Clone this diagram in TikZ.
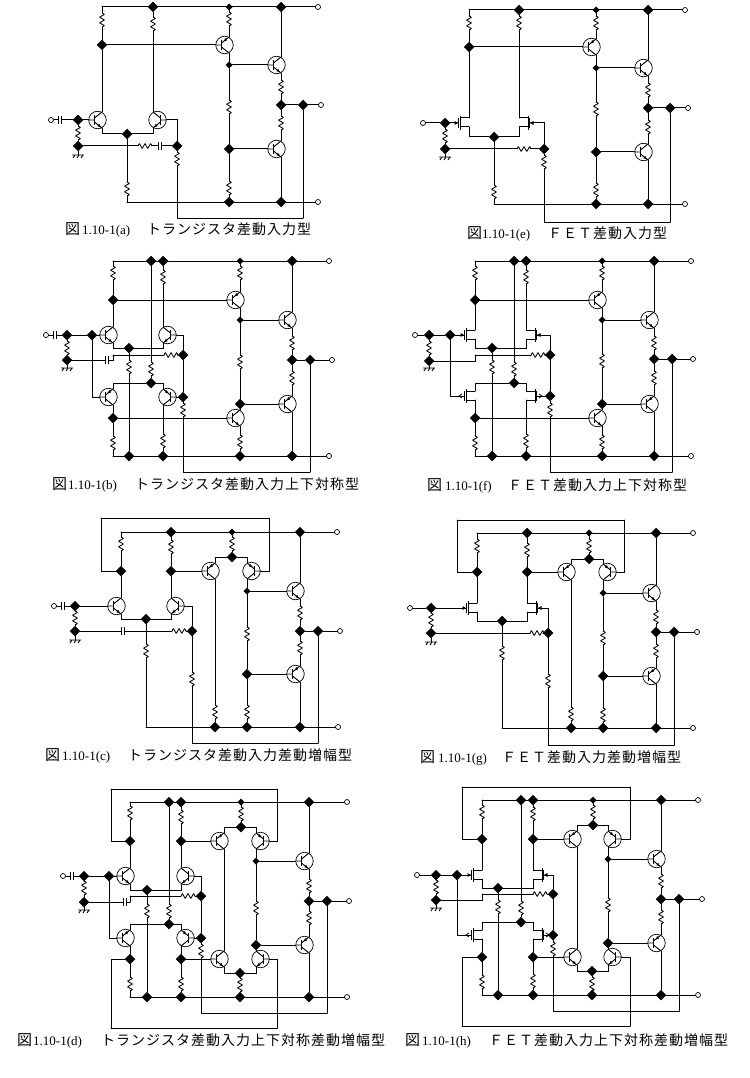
\documentclass[tikz,border=0pt]{standalone}
\usepackage{fontspec}
\setmainfont{Liberation Serif}
\newfontfamily\cjkf[LetterSpace=7.14]{Noto Sans CJK JP}
\newfontfamily\cjkz{Noto Sans CJK JP}
\usetikzlibrary{shapes.geometric}
\tikzset{
  wr/.style={line width=1pt,line cap=round,line join=miter},
  rs/.style={line width=0.85pt,line join=bevel},
  qc/.style={circle,draw,line width=0.7pt,minimum size=17.5pt,inner sep=0pt,outer sep=0pt},
  jbig/.style={diamond,fill=black,inner sep=0pt,outer sep=0pt,minimum size=10.5pt},
  jsmall/.style={diamond,fill=black,inner sep=0pt,outer sep=0pt,minimum size=7pt},
  tmn/.style={circle,draw,fill=white,line width=0.7pt,inner sep=0pt,outer sep=0pt,minimum size=5pt},
  capt/.style={anchor=west,inner sep=0pt,font=\fontsize{13pt}{15pt}\selectfont}
}
\newcommand\Jb[3]{\node[jbig] (#1) at (#2,#3) {};}
\newcommand\Js[3]{\node[jsmall] (#1) at (#2,#3) {};}
\newcommand\Tm[3]{\node[tmn] (#1) at (#2,#3) {};}
\newcommand\Cn[3]{\coordinate (#1) at (#2,#3);}
\newcommand\Rv[3]{\coordinate (#1-t) at (#2,#3-7);\coordinate (#1-d) at (#2,#3+7);
  \draw[rs] (#1-t) -- ++(2.5,1.4) -- ++(-5,2.8) -- ++(5,2.8) -- ++(-5,2.8) -- ++(5,2.8) -- ++(-2.5,1.4);}
\newcommand\Rh[3]{\coordinate (#1-l) at (#2-7,#3);\coordinate (#1-r) at (#2+7,#3);
  \draw[rs] (#1-l) -- ++(1.4,-2.5) -- ++(2.8,5) -- ++(2.8,-5) -- ++(2.8,5) -- ++(2.8,-5) -- ++(1.4,2.5);}
\newcommand\Cap[4][0.9pt]{\coordinate (#2-l) at (#3-5,#4);\coordinate (#2-r) at (#3+5,#4);
  \draw[wr] (#2-l) -- ++(3.5,0) (#2-r) -- ++(-3.5,0);
  \draw[line width=#1] (#3-1.5,#4-4) -- (#3-1.5,#4+4) (#3+1.5,#4-4) -- (#3+1.5,#4+4);}
\newcommand\Gnd[3]{\coordinate (#1) at (#2,#3);
  \draw[line width=0.9pt] (#2-6,#3) -- (#2+6,#3) (#2-3,#3) -- ++(-2,3) (#2+1,#3) -- ++(-2,3) (#2+5,#3) -- ++(-2,3);}
% BJT: name, lead x, y, side (1 base left, -1 base right), kind
\newcommand\BJT[5]{\pgfmathsetmacro\qcx{#2-4.5*#4}\pgfmathsetmacro\qgx{#2-13.5*#4}
  \node[qc] (#1) at (\qcx,#3) {};
  \coordinate (#1-g) at (\qgx,#3);\coordinate (#1-u) at (#2,#3-8);\coordinate (#1-d) at (#2,#3+8);
  \begin{scope}[shift={(\qcx,#3)},xscale=#4]
    \draw[line width=0.9pt] (-9,0) -- (-3,0) (-3,-2) -- (4.5,-8) (-3,2) -- (4.5,8);
    \draw[line width=1.3pt] (-3,-5) -- (-3,5);
    \ifnum#5=1 \fill (3.5,7.2) -- (-0.16,6.2) -- (1.7,3.86) -- cycle;
    \else \fill (-1,-3.6) -- (2.66,-4.6) -- (0.8,-6.94) -- cycle; \fi
  \end{scope}}
\newcommand\npn[4]{\BJT{#1}{#2}{#3}{#4}{1}}
\newcommand\pnp[4]{\BJT{#1}{#2}{#3}{#4}{0}}
% FET: name, lead x, y, side, kind (1 arrow in, 0 arrow out)
\newcommand\FET[5]{\pgfmathsetmacro\qgx{#2-16*#4}
  \coordinate (#1-g) at (\qgx,#3);\coordinate (#1-u) at (#2,#3-5);\coordinate (#1-d) at (#2,#3+4);
  \begin{scope}[shift={(#2,#3)},xscale=#4]
    \draw[line width=1pt] (0,-5) -- (-9,-5) (-9,4) -- (0,4) (-16,0) -- (-10.5,0);
    \draw[line width=1pt] (-9,-7) -- (-9,7);
    \draw[line width=1pt] (-10.5,-5) -- (-10.5,5);
    \ifnum#5=1 \fill (-11,0) -- (-14.5,-2) -- (-14.5,2) -- cycle;
    \else \draw[line width=0.8pt] (-13,-2) -- (-16,0) -- (-13,2); \fi
  \end{scope}}
\newcommand\Common{\draw[wr] (tl)--(tv) (bl)--(tb) (j4)--(Qh-u) (Qh-d)--(rh-t) (rh-d)--(jo) (jo)--(jf) (jf)--(to)
  (jo)--(rl-t) (rl-d)--(Ql-u) (Ql-d)--(jb4) (j5)--(Qh-g) (j6)--(Ql-g)
  (ji)--(r9-t) (r9-d)--(jg) (jg)--(g) (r11-d)|-(fb) (fb)--(jf);}
\newcommand\Cpt[7]{\node[capt] (#1) at (#2,#5) {\makebox[\dimexpr#3pt-#2pt\relax][l]{\fontsize{15pt}{15pt}\cjkz 図}\makebox[\dimexpr#4pt-#3pt\relax][l]{#6}{\fontsize{14pt}{15pt}\cjkf #7}};}
\begin{document}
\begin{tikzpicture}[x=1pt,y=-1pt]
\fill[white] (0,0) rectangle (749,1078);
\useasboundingbox (0,0) rectangle (749,1078);
%%% (a)
\begin{scope}[name prefix=a-]
\Tm{tv}{318}{7}\Cn{tl}{102}{7}\Jb{j2}{153}{7}\Js{j3}{229}{7}\Jb{j4}{281}{7}
\Rv{r1}{102}{20}\Jb{j1}{102}{45}\Rv{r2}{153}{24}
\npn{Q1}{102}{120}{1}\npn{Q2}{153}{120}{-1}
\pnp{Q3}{229}{45}{1}\Rv{r3}{229}{19}\Js{j5}{229}{65}
\npn{Qh}{281}{65}{1}\Rv{rh}{281}{87}\Jb{jo}{281}{105}\Jb{jf}{303}{105}\Tm{to}{321}{105}
\Rv{rl}{281}{123}\npn{Ql}{281}{149}{1}
\Cn{bl}{127}{202}\Jb{jb3}{229}{202}\Jb{jb4}{281}{202}\Tm{tb}{318}{202}
\Rv{rm}{229}{107}\Jb{j6}{229}{149}\Rv{r7}{229}{188}
\Jb{je}{127}{134}\Rv{r8}{127}{189}
\Tm{ti}{51}{120}\Cap{c1}{60}{120}\Jb{ji}{78}{120}\Rv{r9}{78}{133}\Jb{jg}{78}{146}\Gnd{g}{78}{155}
\Rh{r10}{145}{146}\Cap[1.6pt]{c2}{160}{146}\Jb{jf2}{177}{146}\Rv{r11}{177}{159}\Cn{fb}{303}{218}
\Common
\draw[wr] (tl)--(r1-t) (r1-d)--(j1) (j1)--(Q1-u) (j2)--(r2-t) (r2-d)--(Q2-u) (j1)--(Q3-g)
  (j3)--(r3-t) (r3-d)--(Q3-u) (Q3-d)--(j5) (j5)--(rm-t) (rm-d)--(j6) (j6)--(r7-t) (r7-d)--(jb3)
  (Q1-d)|-(je) (je)-|(Q2-d) (je)--(r8-t) (r8-d)--(bl)
  (ti)--(c1-l) (c1-r)--(ji) (ji)--(Q1-g) (jg)--(r10-l) (r10-r)--(c2-l) (c2-r)--(jf2)
  (Q2-g)-|(jf2) (jf2)--(r11-t);
\Cpt{cp}{65}{82}{147}{230}{1.10-1(a)}{トランジスタ差動入力型}
\end{scope}
%%% (e)
\begin{scope}[name prefix=e-]
\Tm{tv}{685}{10}\Cn{tl}{469}{10}\Jb{j2}{519}{10}\Js{j3}{596}{10}\Jb{j4}{648}{10}
\Rv{r1}{469}{23}\Jb{j1}{469}{47}\Rv{r2}{519}{23}
\FET{M1}{469}{123}{1}{1}\FET{M2}{519}{123}{-1}{1}
\pnp{Q3}{596}{47}{1}\Rv{r3}{596}{23}\Js{j5}{596}{68}
\npn{Qh}{648}{68}{1}\Rv{rh}{648}{90}\Jb{jo}{648}{108}\Jb{jf}{670}{108}\Tm{to}{688}{108}
\Rv{rl}{648}{127}\npn{Ql}{648}{152}{1}
\Cn{bl}{494}{204}\Jb{jb3}{596}{204}\Jb{jb4}{648}{204}\Tm{tb}{685}{204}
\Rv{rm}{596}{109}\Jb{j6}{596}{152}\Rv{r7}{596}{190}
\Jb{je}{494}{137}\Rv{r8}{494}{192}
\Tm{ti}{423}{123}\Jb{ji}{445}{123}\Rv{r9}{445}{136}\Jb{jg}{445}{149}\Gnd{g}{445}{157}
\Rh{r10}{524}{149}\Jb{jf2}{544}{149}\Rv{r11}{544}{162}\Cn{fb}{670}{222}
\Common
\draw[wr] (tl)--(r1-t) (r1-d)--(j1) (j1)--(M1-u) (j2)--(r2-t) (r2-d)--(M2-u) (j1)--(Q3-g)
  (j3)--(r3-t) (r3-d)--(Q3-u) (Q3-d)--(j5) (j5)--(rm-t) (rm-d)--(j6) (j6)--(r7-t) (r7-d)--(jb3)
  (M1-d)|-(je) (je)-|(M2-d) (je)--(r8-t) (r8-d)--(bl)
  (ti)--(ji) (ji)--(M1-g) (jg)--(r10-l) (r10-r)--(jf2)
  (M2-g)-|(jf2) (jf2)--(r11-t);
\Cpt{cp}{467}{482}{548}{234}{1.10-1(e)}{ＦＥＴ差動入力型}
\end{scope}
%%% (b)
\begin{scope}[name prefix=b-]
\Tm{tv}{329}{261}\Cn{tl}{113}{261}\Jb{j2}{151}{261}\Jb{j2b}{163}{261}\Js{j3}{240}{261}\Jb{j4}{292}{261}
\Rv{r1}{113}{273}\Jb{j1}{113}{300}\Rv{r2}{163}{277}
\npn{Q1}{113}{335}{1}\npn{Q2}{163}{335}{-1}
\pnp{Q3}{240}{300}{1}\Rv{r3}{240}{273}\Js{j5}{240}{320}
\npn{Qh}{292}{320}{1}\Rv{rh}{292}{343}\Jb{jo}{292}{360}\Jb{jf}{310}{360}\Tm{to}{332}{360}
\Rv{rl}{292}{378}\pnp{Ql}{292}{404}{1}
\Cn{bl}{113}{456}\Jb{jb1}{129}{456}\Jb{jb2}{163}{456}\Jb{jb3}{240}{456}\Jb{jb4}{292}{456}\Tm{tb}{329}{456}
\Rv{rm}{240}{362}\Jb{j6}{240}{404}\npn{Q6}{240}{418}{1}\Rv{r7}{240}{442}
\Jb{je}{129}{348}\Rv{r13}{129}{367}\Rv{r12}{151}{369}\Jb{jm}{151}{383}
\pnp{Q7}{113}{397}{1}\pnp{Q8}{163}{397}{-1}
\Jb{j7}{113}{418}\Rv{r14}{113}{443}\Rv{r15}{163}{441}
\Tm{ti}{46}{335}\Cap{c1}{55}{335}\Jb{ji}{67}{335}\Jb{ji2}{92}{335}\Rv{r9}{67}{348}\Jb{jg}{67}{360}\Gnd{g}{67}{368}
\Cap{c2}{107}{360}\Cn{cc}{113}{355}\Rh{r10}{171}{355}\Jb{jf2}{183}{355}\Jb{jf3}{183}{397}\Rv{r11}{183}{410}\Cn{fb}{310}{472}
\Common
\draw[wr] (r1-t)--(tl) (r1-d)--(j1) (j1)--(Q1-u) (j2b)--(r2-t) (r2-d)--(Q2-u) (j1)--(Q3-g)
  (j3)--(r3-t) (r3-d)--(Q3-u) (Q3-d)--(j5) (j5)--(rm-t) (rm-d)--(j6) (j6)--(Q6-u) (Q6-d)--(r7-t) (r7-d)--(jb3)
  (Q1-d)|-(je) (je)-|(Q2-d) (je)--(r13-t) (r13-d)--(jb1)
  (j2)--(r12-t) (r12-d)--(jm) (Q7-u)|-(jm) (jm)-|(Q8-u)
  (Q7-d)--(j7) (j7)--(r14-t) (r14-d)--(bl) (j7)--(Q6-g) (Q8-d)--(r15-t) (r15-d)--(jb2)
  (ti)--(c1-l) (c1-r)--(ji) (ji)--(ji2) (ji2)--(Q1-g) (ji2)|-(Q7-g)
  (jg)--(c2-l) (c2-r)-|(cc) (cc)--(r10-l) (r10-r)--(jf2)
  (Q2-g)-|(jf2) (jf2)--(jf3) (Q8-g)--(jf3) (jf3)--(r11-t);
\Cpt{cp}{52}{68}{135}{485}{1.10-1(b)}{トランジスタ差動入力上下対称型}
\end{scope}
%%% (f)
\begin{scope}[name prefix=f-]
\Tm{tv}{691}{261}\Cn{tl}{475}{261}\Jb{j2}{514}{261}\Jb{j2b}{526}{261}\Js{j3}{602}{261}\Jb{j4}{654}{261}
\Rv{r1}{475}{273}\Jb{j1}{475}{300}\Rv{r2}{526}{277}
\FET{M1}{475}{335}{1}{1}\FET{M2}{526}{335}{-1}{1}
\pnp{Q3}{602}{300}{1}\Rv{r3}{602}{273}\Js{j5}{602}{320}
\npn{Qh}{654}{320}{1}\Rv{rh}{654}{343}\Jb{jo}{654}{359}\Jb{jf}{672}{359}\Tm{to}{693}{359}
\Rv{rl}{654}{378}\pnp{Ql}{654}{404}{1}
\Cn{bl}{475}{456}\Jb{jb1}{492}{456}\Jb{jb2}{526}{456}\Jb{jb3}{602}{456}\Jb{jb4}{654}{456}\Tm{tb}{691}{456}
\Rv{rm}{602}{361}\Jb{j6}{602}{404}\npn{Q6}{602}{418}{1}\Rv{r7}{602}{442}
\Jb{je}{492}{348}\Rv{r13}{492}{367}\Rv{r12}{514}{369}\Jb{jm}{514}{383}
\FET{M3}{475}{396}{1}{0}\FET{M4}{526}{396}{-1}{0}
\Jb{j7}{475}{418}\Rv{r14}{475}{443}\Rv{r15}{526}{441}
\Tm{ti}{415}{335}\Jb{ji}{429}{335}\Jb{ji2}{450}{335}\Rv{r9}{429}{348}\Jb{jg}{429}{361}\Gnd{g}{429}{368}
\Cn{cc}{475}{355}\Rh{r10}{538}{355}\Jb{jf2}{550}{355}\Jb{jf3}{550}{396}\Rv{r11}{550}{410}\Cn{fb}{672}{472}
\Common
\draw[wr] (r1-t)--(tl) (r1-d)--(j1) (j1)--(M1-u) (j2b)--(r2-t) (r2-d)--(M2-u) (j1)--(Q3-g)
  (j3)--(r3-t) (r3-d)--(Q3-u) (Q3-d)--(j5) (j5)--(rm-t) (rm-d)--(j6) (j6)--(Q6-u) (Q6-d)--(r7-t) (r7-d)--(jb3)
  (M1-d)|-(je) (je)-|(M2-d) (je)--(r13-t) (r13-d)--(jb1)
  (j2)--(r12-t) (r12-d)--(jm) (M3-u)|-(jm) (jm)-|(M4-u)
  (M3-d)--(j7) (j7)--(r14-t) (r14-d)--(bl) (j7)--(Q6-g) (M4-d)--(r15-t) (r15-d)--(jb2)
  (ti)--(ji) (ji)--(ji2) (ji2)--(M1-g) (ji2)|-(M3-g)
  (jg)-|(cc) (cc)--(r10-l) (r10-r)--(jf2)
  (M2-g)-|(jf2) (jf2)--(jf3) (M4-g)--(jf3) (jf3)--(r11-t);
\Cpt{cp}{427}{445}{508}{486}{1.10-1(f)}{ＦＥＴ差動入力上下対称型}
\end{scope}
%%% (c)
\begin{scope}[name prefix=c-]
\Cn{cl1}{101}{518}\Cn{cl2}{269}{518}
\Tm{tv}{337}{532}\Cn{tl}{121}{532}\Jb{j2}{171}{532}\Js{j3}{232}{532}\Jb{j4}{300}{532}
\Rv{r1}{121}{544}\Jb{j1}{121}{571}\Rv{r2}{171}{547}\Jb{j2d}{171}{571}
\npn{Q1}{121}{606}{1}\npn{Q2}{171}{606}{-1}\Jb{je}{146}{619}
\pnp{Q3}{215}{571}{1}\pnp{Q4}{247}{571}{-1}\Jb{jt}{232}{557}\Rv{r3}{232}{544}
\Cn{bl}{146}{727}\Jb{jb1}{215}{727}\Jb{jb3}{247}{727}\Jb{jb4}{300}{727}\Tm{tb}{338}{727}
\Rv{r8}{146}{651}\Rv{r6}{215}{712}\Js{j5}{247}{591}\Rv{rm}{247}{634}\Jb{j6}{247}{674}\Rv{r7}{247}{712}
\npn{Qh}{300}{591}{1}\Rv{rh}{300}{613}\Jb{jo}{300}{631}\Jb{jf}{318}{631}\Tm{to}{340}{631}
\Rv{rl}{300}{648}\pnp{Ql}{300}{674}{1}
\Tm{ti}{54}{606}\Cap{c1}{63}{606}\Jb{ji}{75}{606}\Rv{r9}{75}{618}\Jb{jg}{75}{631}\Gnd{g}{75}{640}
\Cap{c2}{123}{631}\Rh{r10}{179}{631}\Jb{jf2}{192}{631}\Rv{r11}{192}{679}\Cn{fb}{318}{743}
\Common
\draw[wr] (j1)-|(cl1) (cl1)--(cl2) (cl2)|-(Q4-g)
  (tl)--(r1-t) (r1-d)--(j1) (j1)--(Q1-u) (j2)--(r2-t) (r2-d)--(j2d) (j2d)--(Q2-u) (j2d)--(Q3-g)
  (j3)--(r3-t) (r3-d)--(jt) (Q3-u)|-(jt) (jt)-|(Q4-u)
  (Q3-d)--(r6-t) (r6-d)--(jb1) (Q4-d)--(j5) (j5)--(rm-t) (rm-d)--(j6) (j6)--(r7-t) (r7-d)--(jb3)
  (Q1-d)|-(je) (je)-|(Q2-d) (je)--(r8-t) (r8-d)--(bl)
  (ti)--(c1-l) (c1-r)--(ji) (ji)--(Q1-g) (jg)--(c2-l) (c2-r)--(r10-l) (r10-r)--(jf2)
  (Q2-g)-|(jf2) (jf2)--(r11-t);
\Cpt{cp}{45}{62}{128}{756}{1.10-1(c)}{トランジスタ差動入力差動増幅型}
\end{scope}
%%% (g)
\begin{scope}[name prefix=g-]
\Cn{cl1}{457}{520}\Cn{cl2}{624}{520}
\Tm{tv}{693}{533}\Cn{tl}{477}{533}\Jb{j2}{527}{533}\Js{j3}{589}{533}\Jb{j4}{656}{533}
\Rv{r1}{477}{546}\Jb{j1}{477}{572}\Rv{r2}{527}{550}\Jb{j2d}{527}{572}
\FET{M1}{477}{608}{1}{1}\FET{M2}{527}{608}{-1}{1}\Jb{je}{502}{621}
\pnp{Q3}{571}{572}{1}\pnp{Q4}{603}{572}{-1}\Jb{jt}{589}{559}\Rv{r3}{589}{546}
\Cn{bl}{502}{728}\Jb{jb1}{571}{728}\Jb{jb3}{603}{728}\Jb{jb4}{656}{728}\Tm{tb}{693}{728}
\Rv{r8}{502}{653}\Rv{r6}{571}{714}\Js{j5}{603}{593}\Rv{rm}{603}{638}\Jb{j6}{603}{676}\Rv{r7}{603}{715}
\npn{Qh}{656}{593}{1}\Rv{rh}{656}{617}\Jb{jo}{656}{632}\Jb{jf}{674}{632}\Tm{to}{697}{632}
\Rv{rl}{656}{651}\pnp{Ql}{656}{676}{1}
\Tm{ti}{410}{608}\Jb{ji}{431}{608}\Rv{r9}{431}{620}\Jb{jg}{431}{633}\Gnd{g}{431}{642}
\Rh{r10}{537}{633}\Jb{jf2}{548}{633}\Rv{r11}{548}{681}\Cn{fb}{674}{745}
\Common
\draw[wr] (j1)-|(cl1) (cl1)--(cl2) (cl2)|-(Q4-g)
  (tl)--(r1-t) (r1-d)--(j1) (j1)--(M1-u) (j2)--(r2-t) (r2-d)--(j2d) (j2d)--(M2-u) (j2d)--(Q3-g)
  (j3)--(r3-t) (r3-d)--(jt) (Q3-u)|-(jt) (jt)-|(Q4-u)
  (Q3-d)--(r6-t) (r6-d)--(jb1) (Q4-d)--(j5) (j5)--(rm-t) (rm-d)--(j6) (j6)--(r7-t) (r7-d)--(jb3)
  (M1-d)|-(je) (je)-|(M2-d) (je)--(r8-t) (r8-d)--(bl)
  (ti)--(ji) (ji)--(M1-g) (jg)--(r10-l) (r10-r)--(jf2)
  (M2-g)-|(jf2) (jf2)--(r11-t);
\Cpt{cp}{420}{438}{502}{758}{1.10-1(g)}{ＦＥＴ差動入力差動増幅型}
\end{scope}
%%% (d)
\begin{scope}[name prefix=d-]
\Cn{cl1}{111}{789}\Cn{cl2}{277}{789}\Cn{cl3}{111}{1028}\Cn{cl4}{277}{1028}
\Tm{tv}{347}{802}\Cn{tl}{130}{802}\Jb{j2}{169}{802}\Jb{j2b}{181}{802}\Js{j3}{241}{802}\Jb{j4}{309}{802}
\Rv{r1}{130}{813}\Jb{j1}{130}{841}\Rv{r2}{181}{817}\Jb{j2d}{181}{841}
\npn{Q1}{130}{876}{1}\npn{Q2}{181}{876}{-1}\Jb{je}{147}{890}
\pnp{Q3}{224}{841}{1}\pnp{Q4}{256}{841}{-1}\Jb{jt}{241}{827}\Rv{r3}{241}{814}
\Cn{bl}{130}{997}\Jb{jb1}{147}{997}\Jb{jb2}{181}{997}\Jb{jb3}{240}{997}\Jb{jb4}{309}{997}\Tm{tb}{347}{997}
\Rv{r13}{147}{911}\Rv{r12}{169}{911}\Jb{jm}{169}{924}
\pnp{Q7}{130}{938}{1}\pnp{Q8}{181}{938}{-1}
\Jb{j7}{130}{959}\Rv{r14}{130}{984}\Jb{j8}{181}{959}\Rv{r15}{181}{984}
\npn{Q9}{224}{959}{1}\npn{Q10}{256}{959}{-1}\Jb{jbm}{240}{973}\Rv{r16}{240}{985}
\Js{j5}{256}{861}\Rv{rm}{256}{908}\Jb{j6}{256}{945}
\npn{Qh}{309}{861}{1}\Rv{rh}{309}{886}\Jb{jo}{309}{901}\Jb{jf}{327}{901}\Tm{to}{349}{901}
\Rv{rl}{309}{918}\pnp{Ql}{309}{945}{1}
\Tm{ti}{63}{876}\Cap{c1}{72}{876}\Jb{ji}{84}{876}\Jb{ji2}{109}{876}\Rv{r9}{84}{888}\Jb{jg}{84}{902}\Gnd{g}{84}{910}
\Cap{c2}{125}{902}\Cn{cc}{130}{896}\Rh{r10}{188}{896}\Jb{jf2}{201}{896}\Jb{jf3}{201}{938}\Rv{r11}{201}{951}\Cn{fb}{327}{1013}
\Common
\draw[wr] (j1)-|(cl1) (cl1)--(cl2) (cl2)|-(Q4-g) (j7)-|(cl3) (cl3)--(cl4) (cl4)|-(Q10-g)
  (tl)--(r1-t) (r1-d)--(j1) (j1)--(Q1-u) (j2b)--(r2-t) (r2-d)--(j2d) (j2d)--(Q2-u) (j2d)--(Q3-g)
  (j3)--(r3-t) (r3-d)--(jt) (Q3-u)|-(jt) (jt)-|(Q4-u)
  (Q3-d)--(Q9-u) (Q4-d)--(j5) (j5)--(rm-t) (rm-d)--(j6) (j6)--(Q10-u)
  (Q9-d)|-(jbm) (jbm)-|(Q10-d) (jbm)--(r16-t) (r16-d)--(jb3) (j8)--(Q9-g)
  (Q1-d)|-(je) (je)-|(Q2-d) (je)--(r13-t) (r13-d)--(jb1)
  (j2)--(r12-t) (r12-d)--(jm) (Q7-u)|-(jm) (jm)-|(Q8-u)
  (Q7-d)--(j7) (j7)--(r14-t) (r14-d)--(bl) (Q8-d)--(j8) (j8)--(r15-t) (r15-d)--(jb2)
  (ti)--(c1-l) (c1-r)--(ji) (ji)--(ji2) (ji2)--(Q1-g) (ji2)|-(Q7-g)
  (jg)--(c2-l) (c2-r)-|(cc) (cc)--(r10-l) (r10-r)--(jf2)
  (Q2-g)-|(jf2) (jf2)--(jf3) (Q8-g)--(jf3) (jf3)--(r11-t);
\Cpt{cp}{17}{33}{101}{1041}{1.10-1(d)}{トランジスタ差動入力上下対称差動増幅型}
\end{scope}
%%% (h)
\begin{scope}[name prefix=h-]
\Cn{cl1}{462}{787}\Cn{cl2}{630}{787}\Cn{cl3}{462}{1026}\Cn{cl4}{630}{1026}
\Tm{tv}{698}{800}\Cn{tl}{482}{800}\Jb{j2}{521}{800}\Jb{j2b}{533}{800}\Js{j3}{593}{800}\Jb{j4}{661}{800}
\Rv{r1}{482}{812}\Jb{j1}{482}{839}\Rv{r2}{533}{814}\Jb{j2d}{533}{839}
\FET{M1}{482}{875}{1}{1}\FET{M2}{533}{875}{-1}{1}\Jb{je}{498}{888}
\pnp{Q3}{577}{839}{1}\pnp{Q4}{608}{839}{-1}\Jb{jt}{593}{825}\Rv{r3}{593}{812}
\Cn{bl}{482}{995}\Jb{jb1}{498}{995}\Jb{jb2}{533}{995}\Jb{jb3}{592}{995}\Jb{jb4}{661}{995}\Tm{tb}{698}{995}
\Rv{r13}{498}{907}\Rv{r12}{521}{908}\Jb{jm}{521}{922}
\FET{M3}{482}{935}{1}{0}\FET{M4}{533}{935}{-1}{0}
\Jb{j7}{482}{957}\Rv{r14}{482}{982}\Jb{j8}{533}{957}\Rv{r15}{533}{981}
\npn{Q9}{577}{957}{1}\npn{Q10}{608}{957}{-1}\Jb{jbm}{592}{971}\Rv{r16}{592}{984}
\Js{j5}{608}{859}\Rv{rm}{608}{905}\Jb{j6}{608}{943}
\npn{Qh}{661}{859}{1}\Rv{rh}{661}{881}\Jb{jo}{661}{899}\Jb{jf}{679}{899}\Tm{to}{702}{899}
\Rv{rl}{661}{917}\pnp{Ql}{661}{943}{1}
\Tm{ti}{417}{875}\Jb{ji}{436}{875}\Jb{ji2}{457}{875}\Rv{r9}{436}{887}\Jb{jg}{436}{900}\Gnd{g}{436}{908}
\Cn{cc}{482}{894}\Rh{r10}{540}{894}\Jb{jf2}{553}{894}\Jb{jf3}{553}{935}\Rv{r11}{553}{949}\Cn{fb}{679}{1011}
\Common
\draw[wr] (j1)-|(cl1) (cl1)--(cl2) (cl2)|-(Q4-g) (j7)-|(cl3) (cl3)--(cl4) (cl4)|-(Q10-g)
  (tl)--(r1-t) (r1-d)--(j1) (j1)--(M1-u) (j2b)--(r2-t) (r2-d)--(j2d) (j2d)--(M2-u) (j2d)--(Q3-g)
  (j3)--(r3-t) (r3-d)--(jt) (Q3-u)|-(jt) (jt)-|(Q4-u)
  (Q3-d)--(Q9-u) (Q4-d)--(j5) (j5)--(rm-t) (rm-d)--(j6) (j6)--(Q10-u)
  (Q9-d)|-(jbm) (jbm)-|(Q10-d) (jbm)--(r16-t) (r16-d)--(jb3) (j8)--(Q9-g)
  (M1-d)|-(je) (je)-|(M2-d) (je)--(r13-t) (r13-d)--(jb1)
  (j2)--(r12-t) (r12-d)--(jm) (M3-u)|-(jm) (jm)-|(M4-u)
  (M3-d)--(j7) (j7)--(r14-t) (r14-d)--(bl) (M4-d)--(j8) (j8)--(r15-t) (r15-d)--(jb2)
  (ti)--(ji) (ji)--(ji2) (ji2)--(M1-g) (ji2)|-(M3-g)
  (jg)-|(cc) (cc)--(r10-l) (r10-r)--(jf2)
  (M2-g)-|(jf2) (jf2)--(jf3) (M4-g)--(jf3) (jf3)--(r11-t);
\Cpt{cp}{405}{422}{489}{1041}{1.10-1(h)}{ＦＥＴ差動入力上下対称差動増幅型}
\end{scope}
\end{tikzpicture}
\end{document}
